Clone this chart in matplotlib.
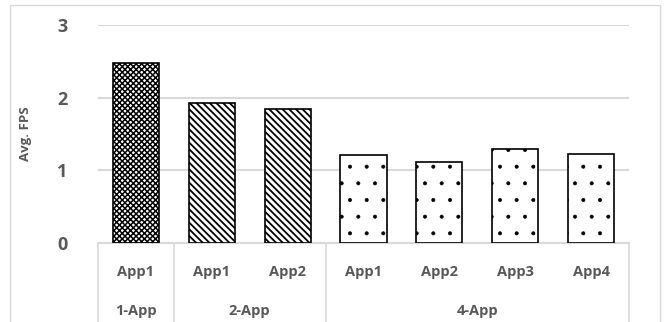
import matplotlib.pyplot as plt
import matplotlib.transforms as mtransforms
from matplotlib.patches import Rectangle

# Data
apps = ['App1', 'App1', 'App2', 'App1', 'App2', 'App3', 'App4']
groups = ['1-App', '2-App', '4-App']
group_sizes = [1, 2, 4]
fps = [2.48, 1.93, 1.85, 1.21, 1.11, 1.30, 1.23]
group_hatch = ['xxxxxx', '\\\\\\\\\\', '.']
group_hatch_lw = [1.1, 1.3, 0.4]

plt.rcParams['font.family'] = ['Open Sans', 'DejaVu Sans']
text_color = '#595959'
line_color = '#d9d9d9'

fig = plt.figure(figsize=(6.68, 3.22), dpi=100)
W, H = 668, 322
ax = fig.add_axes([98 / W, (H - 243) / H, (629 - 98) / W, (243 - 25) / H])

# bars
x = list(range(len(apps)))
hatches, hlws = [], []
for g, lw, n in zip(group_hatch, group_hatch_lw, group_sizes):
    hatches += [g] * n
    hlws += [lw] * n
for xi, v, h, hl in zip(x, fps, hatches, hlws):
    bars = ax.bar(xi, v, width=0.61, color='white', edgecolor='black',
                  linewidth=1.2, hatch=h, zorder=3)
    for b in bars:
        b.set_hatch_linewidth(hl)

ax.set_xlim(-0.5, len(apps) - 0.5)
ax.set_ylim(0, 3)
ax.set_yticks([0, 1, 2, 3])
ax.set_yticklabels(['0', '1', '2', '3'], fontsize=13, fontweight='bold', color=text_color)
ax.tick_params(axis='y', length=0, pad=22)
ax.set_xticks([])
for s in ax.spines.values():
    s.set_visible(False)
for yv in [1, 2, 3]:
    ax.axhline(yv, color=line_color, linewidth=1.5, zorder=1)

ax.set_ylabel('Avg. FPS', fontsize=9.5, fontweight='bold', color=text_color, labelpad=18)

# category table under the axis
trans = mtransforms.blended_transform_factory(ax.transData, ax.transAxes)
ax.plot([-0.5, len(apps) - 0.5], [0, 0], color=line_color, linewidth=1.5,
        transform=trans, clip_on=False, zorder=2)
bounds = [-0.5]
for n in group_sizes:
    bounds.append(bounds[-1] + n)
for b in bounds:
    ax.plot([b, b], [0, -0.4], color=line_color, linewidth=1.2,
            transform=trans, clip_on=False)
for xi, a in zip(x, apps):
    ax.text(xi, -0.135, a, ha='center', va='center', fontsize=10.5,
            fontweight='bold', color=text_color, transform=trans)
for i, g in enumerate(groups):
    ax.text((bounds[i] + bounds[i + 1]) / 2, -0.31, g, ha='center', va='center',
            fontsize=10.5, fontweight='bold', color=text_color, transform=trans)

# outer chart border
fig.patches.append(Rectangle((10 / W, -0.1), 650 / W, (H - 5) / H + 0.1,
                             transform=fig.transFigure, fill=False,
                             edgecolor=line_color, linewidth=1))

fig.savefig('out.png', dpi=100)
